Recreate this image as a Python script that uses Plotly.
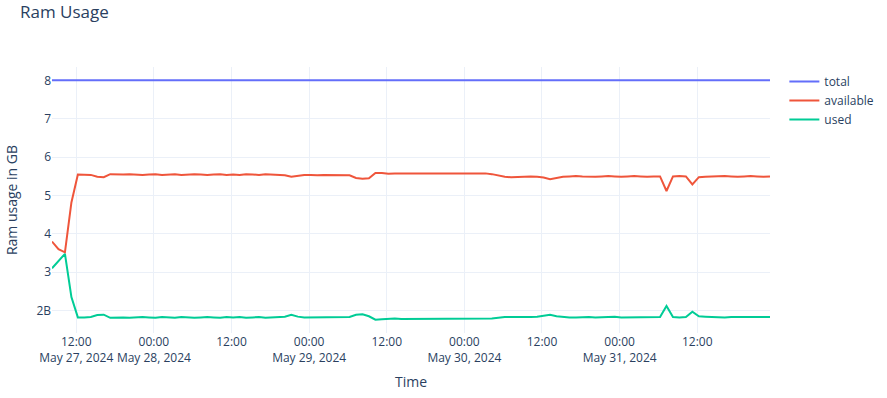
import pandas as pd
import plotly.graph_objects as go

# hourly samples, with a gap of missing data between May 29 and May 30
seg_a_start = "2024-05-27 08:15"
seg_b_start = "2024-05-30 03:15"

total_gb = [8.01] * 100

available_gb = [
    3.80, 3.60, 3.52, 4.82, 5.55, 5.55, 5.54, 5.49, 5.48, 5.56,
    5.55, 5.55, 5.56, 5.55, 5.54, 5.55, 5.56, 5.54, 5.55, 5.56,
    5.54, 5.55, 5.56, 5.55, 5.54, 5.55, 5.56, 5.54, 5.55, 5.54,
    5.56, 5.55, 5.54, 5.56, 5.55, 5.55, 5.53, 5.49, 5.52, 5.54,
    5.54, 5.53, 5.54, 5.54, 5.53, 5.54, 5.53, 5.46, 5.44, 5.45,
    5.59, 5.59, 5.57, 5.58, 5.58,
    # second segment
    5.58, 5.56, 5.52, 5.49, 5.48, 5.49, 5.49, 5.50, 5.49, 5.47,
    5.43, 5.47, 5.49, 5.50, 5.51, 5.50, 5.49, 5.49, 5.50, 5.51,
    5.50, 5.49, 5.50, 5.51, 5.50, 5.49, 5.50, 5.50, 5.12, 5.50,
    5.51, 5.50, 5.29, 5.48, 5.49, 5.50, 5.50, 5.51, 5.50, 5.49,
    5.50, 5.51, 5.50, 5.49, 5.50,
]

used_gb = [
    3.10, 3.29, 3.48, 2.35, 1.82, 1.82, 1.83, 1.88, 1.89, 1.81,
    1.82, 1.82, 1.81, 1.82, 1.83, 1.82, 1.81, 1.83, 1.82, 1.81,
    1.83, 1.82, 1.81, 1.82, 1.83, 1.82, 1.81, 1.83, 1.82, 1.83,
    1.81, 1.82, 1.83, 1.81, 1.82, 1.82, 1.84, 1.89, 1.84, 1.82,
    1.82, 1.83, 1.82, 1.82, 1.83, 1.82, 1.83, 1.89, 1.90, 1.85,
    1.76, 1.77, 1.78, 1.79, 1.78,
    # second segment
    1.78, 1.79, 1.81, 1.83, 1.83, 1.83, 1.82, 1.83, 1.84, 1.86,
    1.89, 1.85, 1.83, 1.82, 1.82, 1.83, 1.83, 1.82, 1.83, 1.83,
    1.84, 1.82, 1.82, 1.83, 1.83, 1.83, 1.82, 1.83, 2.12, 1.83,
    1.82, 1.83, 1.97, 1.85, 1.84, 1.83, 1.83, 1.82, 1.83, 1.83,
    1.82, 1.83, 1.83, 1.82, 1.83,
]

times = list(pd.date_range(seg_a_start, periods=55, freq="h")) + \
        list(pd.date_range(seg_b_start, periods=45, freq="h"))

fig = go.Figure()
for name, vals in [("total", total_gb), ("available", available_gb), ("used", used_gb)]:
    # values stored in bytes, like the source data
    fig.add_trace(go.Scatter(x=times, y=[v * 1e9 for v in vals], mode="lines", name=name))

fig.update_layout(
    template="plotly_white",
    width=887, height=398,
    title=dict(text="Ram Usage", x=20 / 887, xanchor="left", y=1 - 12 / 398, yanchor="middle"),
    margin=dict(l=52, r=117, t=67, b=65, autoexpand=False),
    xaxis_title="Time",
    yaxis_title="Ram usage in GB",
)
fig.update_yaxes(showexponent="first", automargin=False)
fig.update_xaxes(automargin=False, title_standoff=12)

# page without the browser's default body margin
fig.write_html("out.html", config={"displayModeBar": False},
               post_script="document.body.style.margin='0px';")
